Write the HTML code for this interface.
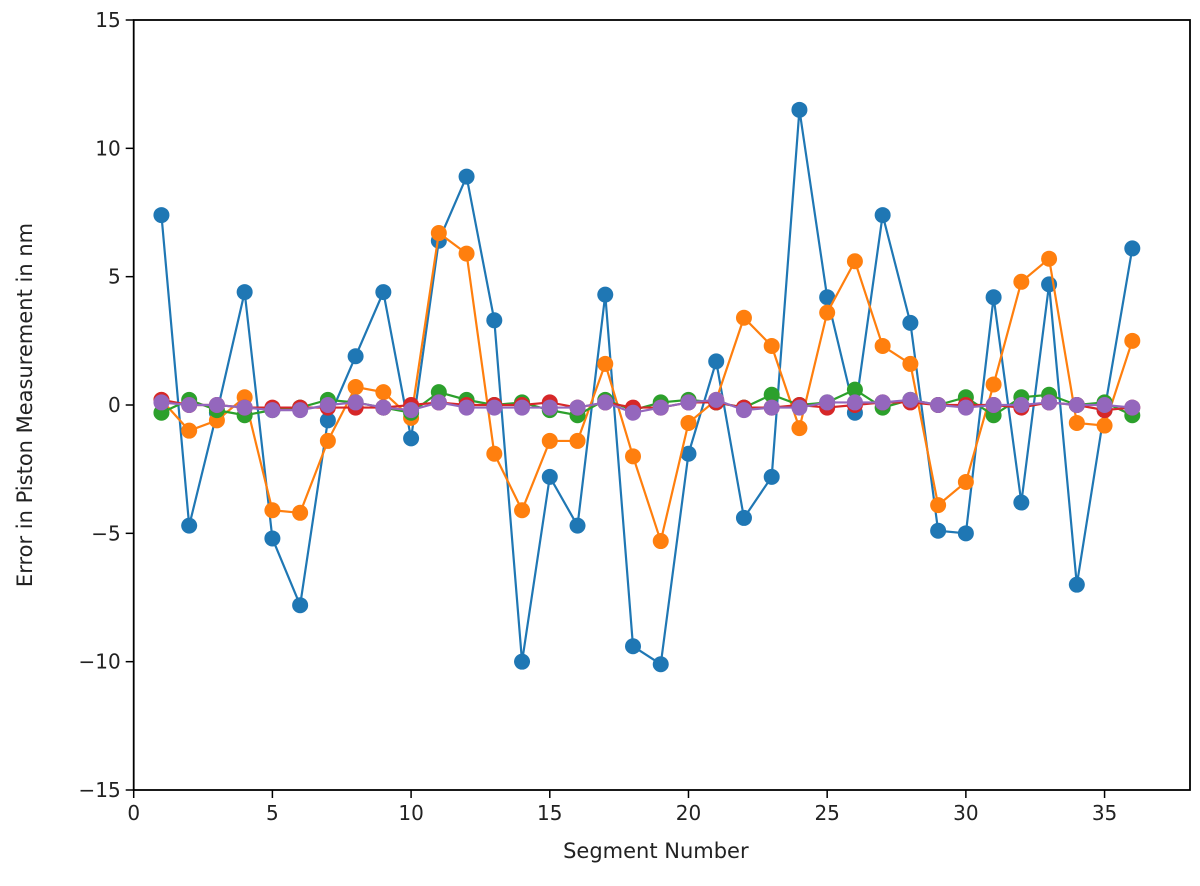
<!DOCTYPE html>
<html><head><meta charset="utf-8"><style>
body{margin:0;background:#fff;}
svg{font-family:"DejaVu Sans","Liberation Sans",sans-serif;}
</style></head><body>
<svg id="chart" width="1200" height="881"></svg>
<script>
const segments=[];for(let i=1;i<=36;i++)segments.push(i);
const blueVals=[7.4,-4.7,-0.3,4.4,-5.2,-7.8,-0.6,1.9,4.4,-1.3,6.4,8.9,3.3,-10,-2.8,-4.7,4.3,-9.4,-10.1,-1.9,1.7,-4.4,-2.8,11.5,4.2,-0.3,7.4,3.2,-4.9,-5.0,4.2,-3.8,4.7,-7.0,-0.2,6.1];
const orangeVals=[0.2,-1.0,-0.6,0.3,-4.1,-4.2,-1.4,0.7,0.5,-0.5,6.7,5.9,-1.9,-4.1,-1.4,-1.4,1.6,-2.0,-5.3,-0.7,0.2,3.4,2.3,-0.9,3.6,5.6,2.3,1.6,-3.9,-3.0,0.8,4.8,5.7,-0.7,-0.8,2.5];
const greenVals=[-0.3,0.2,-0.2,-0.4,-0.2,-0.1,0.2,0.1,-0.1,-0.3,0.5,0.2,0,0.1,-0.2,-0.4,0.2,-0.2,0.1,0.2,0.1,-0.1,0.4,0,0.1,0.6,-0.1,0.2,0,0.3,-0.4,0.3,0.4,0,0.1,-0.4];
const redVals=[0.2,0,0,-0.1,-0.1,-0.1,-0.1,-0.1,-0.1,0,0.1,0,0,0,0.1,-0.1,0.1,-0.1,-0.1,0.1,0.1,-0.1,-0.1,0,-0.1,0,0.1,0.1,0,0,0,-0.1,0.1,0,-0.2,-0.1];
const purpleVals=[0.1,0,0,-0.1,-0.2,-0.2,0,0.1,-0.1,-0.2,0.1,-0.1,-0.1,-0.1,-0.1,-0.1,0.1,-0.3,-0.1,0.1,0.2,-0.2,-0.1,-0.1,0.1,0.1,0.1,0.2,0,-0.1,0,0,0.1,0,0,-0.1];
const xTicks=[0,5,10,15,20,25,30,35];
const yTicks=[-15,-10,-5,0,5,10,15];
const L=133.7,R=1190,T=20,B=790,xMax=38.08,yMin=-15,yMax=15;
const X=v=>L+(v/xMax)*(R-L);
const Y=v=>B-(v-yMin)/(yMax-yMin)*(B-T);
const svg=document.getElementById('chart');
const NS='http://www.w3.org/2000/svg';
function mk(t,a,p){const e=document.createElementNS(NS,t);for(const k in a)e.setAttribute(k,a[k]);(p||svg).appendChild(e);return e;}
const series=[[blueVals,'#1f77b4','blue'],[orangeVals,'#ff7f0e','orange'],[greenVals,'#2ca02c','green'],[redVals,'#d62728','red'],[purpleVals,'#9467bd','purple']];
series.forEach(([vals,c,n])=>{
 const g=mk('g',{});
 
 
 const pl=mk('polyline',{points:vals.map((v,i)=>X(segments[i])+','+Y(v)).join(' '),fill:'none',stroke:c,'stroke-width':2.2},g);
 
 
 vals.forEach((v,i)=>{const p=mk('circle',{cx:X(segments[i]),cy:Y(v),r:8,fill:c},g);
  
  });
});
const frame=mk('rect',{x:L,y:T,width:R-L,height:B-T,fill:'none',stroke:'#000','stroke-width':1.8});


xTicks.forEach(t=>{mk('line',{x1:X(t),x2:X(t),y1:B,y2:B+8,stroke:'#000','stroke-width':1.5});
 const tx=mk('text',{x:X(t),y:B+30,'text-anchor':'middle','font-size':20,fill:'#222'});tx.textContent=t;
 
 });
yTicks.forEach(t=>{mk('line',{x1:L-8,x2:L,y1:Y(t),y2:Y(t),stroke:'#000','stroke-width':1.5});
 const tx=mk('text',{x:L-13,y:Y(t)+7,'text-anchor':'end','font-size':20,fill:'#222'});tx.textContent=(t<0?'\u2212'+(-t):t);
 
 });
const xt=mk('text',{x:(L+R)/2-6,y:858,'text-anchor':'middle','font-size':21,fill:'#222'});xt.textContent='Segment Number';


const yt=mk('text',{x:0,y:0,'text-anchor':'middle','font-size':21,fill:'#222',transform:'translate(32,'+((T+B)/2)+') rotate(-90)'});yt.textContent='Error in Piston Measurement in nm';


</script>
</body></html>
